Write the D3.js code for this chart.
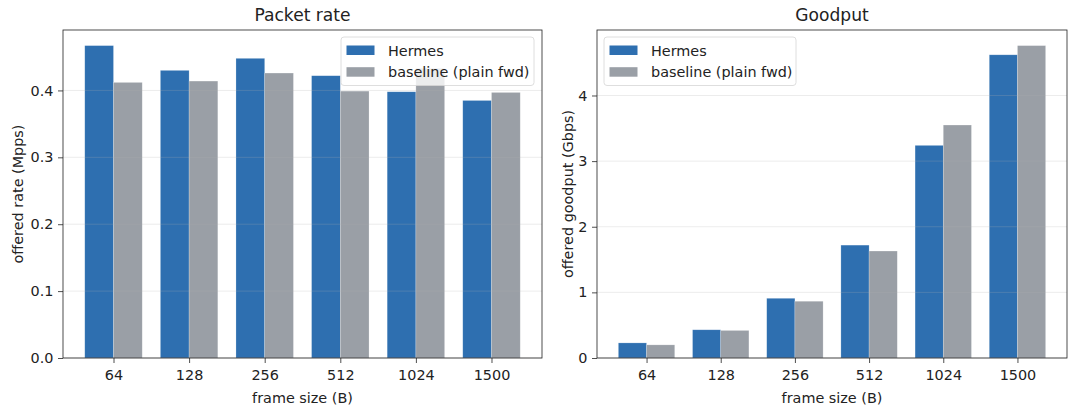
<!DOCTYPE html>
<html>
<head>
<meta charset="utf-8">
<script src="https://cdn.jsdelivr.net/npm/d3@7"></script>
<style>
  body { margin: 0; background: #fff; }
  text { font-family: "DejaVu Sans", sans-serif; fill: #222; }
</style>
</head>
<body>
<svg width="1070" height="409"></svg>
<script>
var svg = d3.select("svg");

// data
var frameSizes = ["64", "128", "256", "512", "1024", "1500"];
var seriesNames = ["Hermes", "baseline (plain fwd)"];
var rateHermes   = [0.467, 0.430, 0.448, 0.422, 0.398, 0.385];
var rateBaseline = [0.412, 0.414, 0.426, 0.399, 0.433, 0.397];
var gputHermes   = [0.23, 0.43, 0.91, 1.72, 3.24, 4.62];
var gputBaseline = [0.20, 0.42, 0.865, 1.63, 3.55, 4.76];
var rateTicks = [0.0, 0.1, 0.2, 0.3, 0.4];
var gputTicks = [0, 1, 2, 3, 4];

var colors = ["#2e6fb0", "#9a9fa6"];
var barW = 0.38;
var fs = "14.4px";

function drawPanel(p) {
  var g = svg.append("g");
  var n = frameSizes.length;
  var lo = -barW, hi = n - 1 + barW, pad = (hi - lo) * 0.05;
  var x = d3.scaleLinear().domain([lo - pad, hi + pad]).range([p.left, p.right]);
  var ymax = d3.max(p.a.concat(p.b)) * 1.05;
  var y = d3.scaleLinear().domain([0, ymax]).range([p.bottom, p.top]);

  var series = [p.a, p.b];
  series.forEach(function(vals, s) {
    g.selectAll(".bar" + s)
      .data(vals)
      .enter().append("rect")
      .attr("x", function(d, i) { return x(i + (s - 1) * barW); })
      .attr("width", x(barW) - x(0))
      .attr("y", function(d) { return y(d); })
      .attr("height", function(d) { return y(0) - y(d); })
      .attr("fill", colors[s])
      .attr("stroke", "#ffffff")
      .attr("stroke-opacity", 0.35)
      .attr("stroke-width", 0.6);
  });

  // grid on top of bars, faint
  g.selectAll(".grid")
    .data(p.ticks)
    .enter().append("line")
    .attr("x1", p.left).attr("x2", p.right)
    .attr("y1", function(d) { return y(d); })
    .attr("y2", function(d) { return y(d); })
    .attr("stroke", "#b0b0b0")
    .attr("stroke-opacity", 0.3)
    .attr("stroke-width", 0.8);

  var yAxis = d3.axisLeft(y).tickValues(p.ticks).tickFormat(p.fmt).tickSize(5).tickPadding(4.5);
  var ya = g.append("g").attr("transform", "translate(" + p.left + ",0)").call(yAxis);
  var xAxis = d3.axisBottom(x).tickValues(d3.range(n)).tickFormat(function(i) { return frameSizes[i]; })
    .tickSize(5).tickPadding(7);
  var xa = g.append("g").attr("transform", "translate(0," + p.bottom + ")").call(xAxis);
  [ya, xa].forEach(function(a) {
    a.select(".domain").remove();
    a.selectAll("line").attr("stroke", "#222").attr("stroke-width", 0.8);
    a.selectAll("text").style("font-size", fs).attr("fill", "#222");
  });

  // frame
  g.append("rect")
    .attr("x", p.left).attr("y", p.top)
    .attr("width", p.right - p.left).attr("height", p.bottom - p.top)
    .attr("fill", "none").attr("stroke", "#222").attr("stroke-width", 0.8);

  g.append("text")
    .attr("x", (p.left + p.right) / 2).attr("y", p.top - 9)
    .attr("text-anchor", "middle").style("font-size", "17.1px")
    .text(p.title);
  g.append("text")
    .attr("x", (p.left + p.right) / 2).attr("y", 402.5)
    .attr("text-anchor", "middle").style("font-size", fs)
    .text("frame size (B)");
  g.append("text")
    .attr("transform", "translate(" + p.ylabX + "," + ((p.top + p.bottom) / 2) + ") rotate(-90)")
    .attr("text-anchor", "middle").style("font-size", fs)
    .text(p.ylabel);

  // legend
  var lg = g.append("g").attr("transform", "translate(" + p.legX + "," + (p.top + 7) + ")");
  lg.append("rect")
    .attr("width", p.legW).attr("height", 48.5).attr("rx", 3)
    .attr("fill", "#fff").attr("fill-opacity", 0.8)
    .attr("stroke", "#d6d6d6").attr("stroke-width", 0.8);
  seriesNames.forEach(function(name, s) {
    lg.append("rect")
      .attr("x", 5.5).attr("y", 8.5 + s * 21.7)
      .attr("width", 28).attr("height", 9.5)
      .attr("fill", colors[s]);
    lg.append("text")
      .attr("x", 47).attr("y", 18.5 + s * 21.7)
      .style("font-size", fs)
      .text(name);
  });
}

drawPanel({
  left: 63, right: 542, top: 30, bottom: 358,
  a: rateHermes, b: rateBaseline, ticks: rateTicks,
  fmt: d3.format(".1f"), title: "Packet rate",
  ylabel: "offered rate (Mpps)", ylabX: 22.5, legX: 341, legW: 193
});
drawPanel({
  left: 597, right: 1067, top: 30, bottom: 358,
  a: gputHermes, b: gputBaseline, ticks: gputTicks,
  fmt: d3.format("d"), title: "Goodput",
  ylabel: "offered goodput (Gbps)", ylabX: 573, legX: 604, legW: 192
});
</script>
</body>
</html>
